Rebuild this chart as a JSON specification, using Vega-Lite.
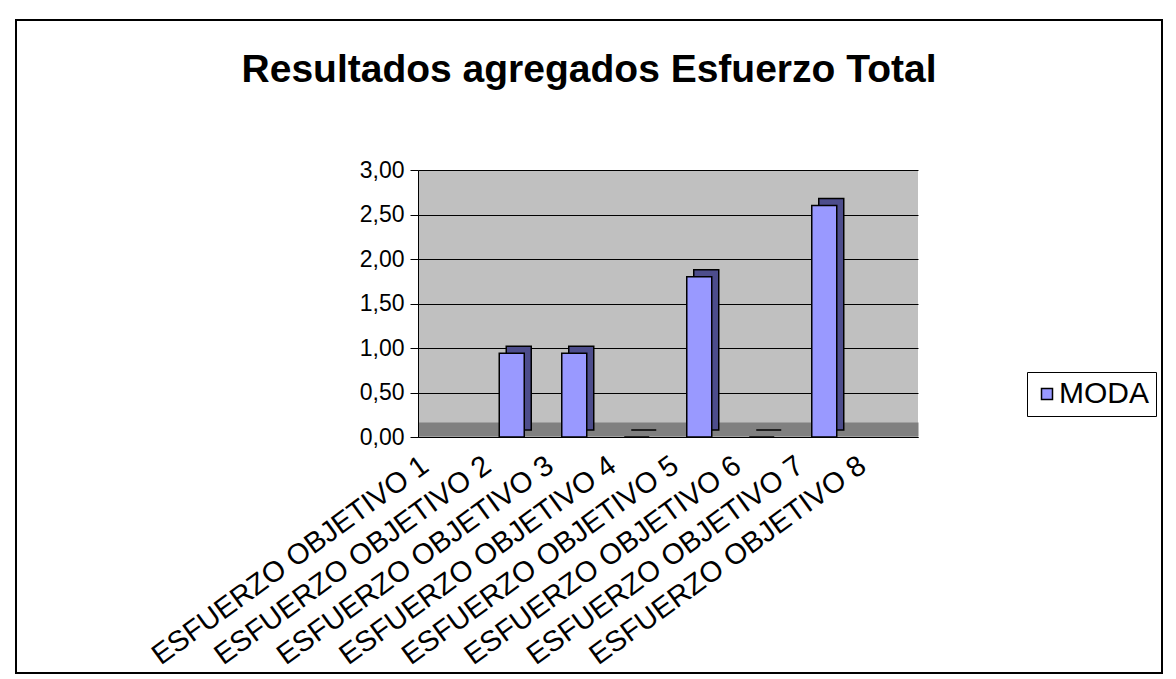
{
  "$schema": "https://vega.github.io/schema/vega-lite/v6.json",
  "width": 1146,
  "height": 653,
  "autosize": {"type": "none"},
  "padding": {"left": 16, "top": 20, "right": 14, "bottom": 6},
  "background": "white",
  "config": {
    "view": {"fill": "white", "stroke": "black", "strokeWidth": 2},
    "font": "Liberation Sans"
  },
  "title": {
    "text": "Resultados agregados Esfuerzo Total",
    "font": "Liberation Sans",
    "fontSize": 39,
    "fontWeight": "bold",
    "color": "black",
    "anchor": "middle",
    "baseline": "alphabetic",
    "offset": -101
  },
  "data": {
    "values": [
      {"objetivo": "ESFUERZO OBJETIVO 1", "moda": null},
      {"objetivo": "ESFUERZO OBJETIVO 2", "moda": 0.94},
      {"objetivo": "ESFUERZO OBJETIVO 3", "moda": 0.94},
      {"objetivo": "ESFUERZO OBJETIVO 4", "moda": 0},
      {"objetivo": "ESFUERZO OBJETIVO 5", "moda": 1.8},
      {"objetivo": "ESFUERZO OBJETIVO 6", "moda": 0},
      {"objetivo": "ESFUERZO OBJETIVO 7", "moda": 2.6},
      {"objetivo": "ESFUERZO OBJETIVO 8", "moda": null}
    ]
  },
  "encoding": {
    "x": {
      "field": "objetivo",
      "type": "nominal",
      "scale": {
        "type": "band",
        "domain": ["ESFUERZO OBJETIVO 1", "ESFUERZO OBJETIVO 2", "ESFUERZO OBJETIVO 3", "ESFUERZO OBJETIVO 4", "ESFUERZO OBJETIVO 5", "ESFUERZO OBJETIVO 6", "ESFUERZO OBJETIVO 7", "ESFUERZO OBJETIVO 8"],
        "range": [402, 902],
        "paddingInner": 0,
        "paddingOuter": 0
      },
      "axis": {
        "orient": "top",
        "offset": -417,
        "title": null,
        "labelAngle": -36,
        "labelAlign": "right",
        "labelBaseline": "middle",
        "labelFont": "Liberation Sans",
        "labelFontSize": 29,
        "labelColor": "black",
        "labelLimit": 0,
        "labelOverlap": false,
        "labelOffset": -24,
        "labelPadding": -25,
        "ticks": false,
        "tickBand": "center",
        "domain": true,
        "domainColor": "black",
        "domainWidth": 1,
        "grid": true,
        "gridColor": "#C0C0C0",
        "gridWidth": 63,
        "gridOpacity": 1
      }
    },
    "y": {
      "field": "moda",
      "type": "quantitative",
      "scale": {"domain": [0, 3], "range": [417, 150], "nice": false},
      "axis": {
        "orient": "left",
        "offset": -402,
        "title": null,
        "values": [0, 0.0843, 0.5, 1, 1.5, 2, 2.5, 3],
        "labelExpr": "datum.value == 0.0843 ? '' : replace(format(datum.value, '.2f'), '.', ',')",
        "labelFont": "Liberation Sans",
        "labelFontSize": 23,
        "labelColor": "black",
        "labelPadding": 6,
        "tickSize": 8,
        "tickColor": "black",
        "tickOpacity": {"condition": {"test": "datum.value == 0.0843", "value": 0}, "value": 1},
        "domainColor": "black",
        "grid": true,
        "gridOpacity": 1,
        "gridColor": {"condition": {"test": "datum.value == 0.0843", "value": "#808080"}, "value": "black"},
        "gridWidth": {"condition": {"test": "datum.value == 0.0843", "value": 14}, "value": 1}
      }
    }
  },
  "layer": [
    {
      "mark": {
        "type": "bar",
        "width": {"band": 0.4},
        "color": "#4D4D8C",
        "stroke": "black",
        "strokeWidth": 1.5,
        "xOffset": 7,
        "x2Offset": 7,
        "yOffset": -7,
        "y2Offset": -7
      }
    },
    {
      "mark": {"type": "bar", "width": {"band": 0.4}, "stroke": "black", "strokeWidth": 1.5},
      "encoding": {
        "color": {
          "datum": "MODA",
          "scale": {"range": ["#9999FF"]},
          "legend": {
            "title": null,
            "orient": "none",
            "legendX": 1011,
            "legendY": 352,
            "labelFont": "Liberation Sans",
            "labelFontSize": 30,
            "labelColor": "black",
            "symbolType": "square",
            "symbolSize": 121,
            "symbolStrokeColor": "black",
            "symbolStrokeWidth": 1.5,
            "fillColor": "white",
            "strokeColor": "black",
            "padding": 7,
            "symbolOffset": -2,
            "labelOffset": -3
          }
        }
      }
    }
  ]
}
